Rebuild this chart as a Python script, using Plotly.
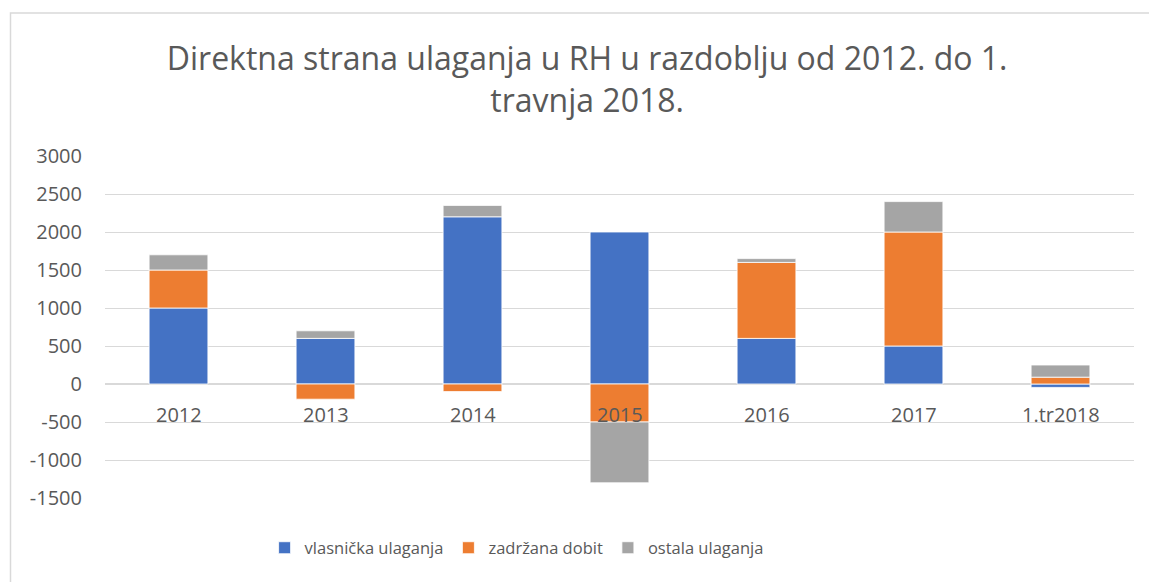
import plotly.graph_objects as go

categories = ["2012", "2013", "2014", "2015", "2016", "2017", "1.tr2018"]
vlasnicka = [1000, 600, 2200, 2000, 600, 500, -45]
zadrzana = [500, -200, -100, -500, 1000, 1500, 90]
ostala = [200, 100, 150, -800, 50, 400, 160]
series_names = ["vlasnička ulaganja", "zadržana dobit", "ostala ulaganja"]
colors = ["#4472C4", "#ED7D31", "#A5A5A5"]
y_ticks = [-1500, -1000, -500, 0, 500, 1000, 1500, 2000, 2500, 3000]

FONT = "Open Sans"
TXT = "#595959"

fig = go.Figure()
for name, vals, col in zip(series_names, [vlasnicka, zadrzana, ostala], colors):
    fig.add_trace(go.Bar(
        x=categories, y=vals, name=name,
        marker=dict(color=col, line=dict(color="white", width=0.8)),
    ))

# category labels drawn next to the zero line (as Excel does)
for i, c in enumerate(categories):
    fig.add_annotation(x=i, y=0, xref="x", yref="y", text=c, showarrow=False,
                       yshift=-30, font=dict(family=FONT, size=20, color=TXT))

W, H = 1149, 582
L, R, T, B = 105, 15, 156, 84
pw, ph = W - L - R, H - T - B

fig.add_shape(type="rect", xref="paper", yref="paper",
              x0=(10.5 - L) / pw, x1=(W + 20 - L) / pw,
              y0=-(B + 20) / ph, y1=(H - B - 13) / ph,
              line=dict(color="#D9D9D9", width=1.5), fillcolor="rgba(0,0,0,0)",
              layer="below")

fig.update_layout(
    width=W, height=H,
    barmode="relative", bargap=0.6,
    paper_bgcolor="white", plot_bgcolor="white",
    margin=dict(l=L, r=R, t=T, b=B),
    title=dict(text="Direktna strana ulaganja u RH u razdoblju od 2012. do 1.<br>travnja 2018.",
               x=0.511, xanchor="center", yref="container", y=1 - 70 / H, yanchor="middle",
               font=dict(family=FONT, size=32, color=TXT)),
    xaxis=dict(type="category", range=[-0.5, 6.5], showticklabels=False, showgrid=False,
               showline=False, zeroline=False, ticks=""),
    yaxis=dict(range=[-1500, 3000], tickvals=y_ticks, ticktext=[str(v) for v in y_ticks],
               showgrid=True, gridcolor="#D9D9D9",
               gridwidth=1, zeroline=True, zerolinecolor="#D9D9D9", zerolinewidth=1.5,
               showline=False, ticks="", ticklabelstandoff=22,
               tickfont=dict(family=FONT, size=20, color=TXT)),
    legend=dict(orientation="h", x=0.4, xanchor="center", y=-(548 - (H - B)) / ph,
                yanchor="middle", font=dict(family=FONT, size=16.5, color=TXT),
                itemwidth=30, traceorder="normal"),
    font=dict(family=FONT, color=TXT),
)

fig.write_html("out.html", config={"displayModeBar": False},
               post_script="document.body.style.margin='0';")
